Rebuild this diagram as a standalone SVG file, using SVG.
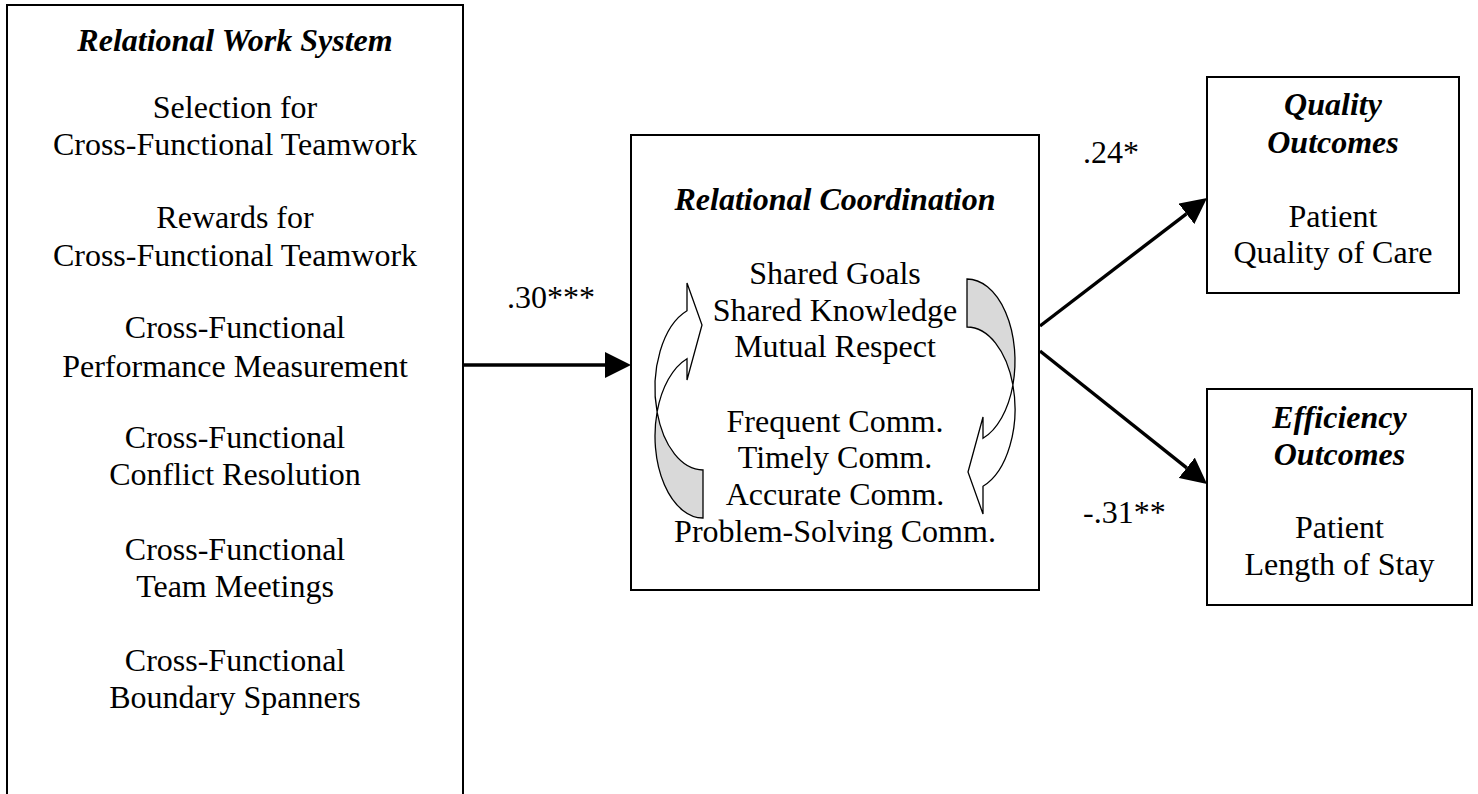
<svg xmlns="http://www.w3.org/2000/svg" width="1478" height="794" viewBox="0 0 1478 794">
<style>
.box{fill:#fff;stroke:#000;stroke-width:2}
.t{font-family:"Liberation Serif","Times New Roman",serif;font-size:32px;fill:#000;text-anchor:middle}
.h{font-weight:bold;font-style:italic}
.lbl{font-family:"Liberation Serif","Times New Roman",serif;font-size:32px;fill:#000}
.conn{stroke:#000;stroke-width:3.4;fill:none}
.ribbon{stroke:#000;stroke-width:1.3;stroke-linejoin:miter}
.front{fill:#fff}
.back{fill:#d9d9d9}
</style>
<defs>
<marker id="ah" markerUnits="userSpaceOnUse" markerWidth="26" markerHeight="26" viewBox="0 0 26 26" refX="0" refY="13" orient="auto">
<path d="M0,0 L26,13 L0,26 Z" fill="#000"/>
</marker>
<g id="curl">
<path class="ribbon back" d="M703,518 A48,82 0 0 1 657.1,412 A48,82 0 0 0 703,470 Z"/>
<path class="ribbon front" d="M657.1,412 A48,82 0 0 1 687,310.7 L687,283 L702,325 L687,380 L687,358.7 A48,82 0 0 0 657.1,412 Z"/>
</g>
</defs>

<g id="relational-work-system">
<rect class="box" x="7" y="5" width="456" height="800"/>
<text class="t h" x="235" y="51">Relational Work System</text>
<text class="t" x="235" y="118">Selection for</text>
<text class="t" x="235" y="155">Cross-Functional Teamwork</text>
<text class="t" x="235" y="228">Rewards for</text>
<text class="t" x="235" y="266">Cross-Functional Teamwork</text>
<text class="t" x="235" y="338">Cross-Functional</text>
<text class="t" x="235" y="377">Performance Measurement</text>
<text class="t" x="235" y="448">Cross-Functional</text>
<text class="t" x="235" y="485">Conflict Resolution</text>
<text class="t" x="235" y="560">Cross-Functional</text>
<text class="t" x="235" y="597">Team Meetings</text>
<text class="t" x="235" y="671">Cross-Functional</text>
<text class="t" x="235" y="708">Boundary Spanners</text>
</g>

<g id="relational-coordination">
<rect class="box" x="631" y="135" width="408" height="455"/>
<use href="#curl"/>
<use href="#curl" transform="rotate(180 835 398.5)"/>
<text class="t h" x="835" y="210">Relational Coordination</text>
<text class="t" x="835" y="284">Shared Goals</text>
<text class="t" x="835" y="321">Shared Knowledge</text>
<text class="t" x="835" y="357">Mutual Respect</text>
<text class="t" x="835" y="432">Frequent Comm.</text>
<text class="t" x="835" y="468">Timely Comm.</text>
<text class="t" x="835" y="505">Accurate Comm.</text>
<text class="t" x="835" y="542">Problem-Solving Comm.</text>
</g>

<g id="quality-outcomes">
<rect class="box" x="1207" y="77" width="252" height="216"/>
<text class="t h" x="1333" y="115">Quality</text>
<text class="t h" x="1333" y="153">Outcomes</text>
<text class="t" x="1333" y="227">Patient</text>
<text class="t" x="1333" y="263">Quality of Care</text>
</g>

<g id="efficiency-outcomes">
<rect class="box" x="1207" y="389" width="265" height="216"/>
<text class="t h" x="1339.5" y="428">Efficiency</text>
<text class="t h" x="1339.5" y="465">Outcomes</text>
<text class="t" x="1339.5" y="538">Patient</text>
<text class="t" x="1339.5" y="575">Length of Stay</text>
</g>

<g id="connectors">
<line class="conn" x1="463" y1="365" x2="605" y2="365" marker-end="url(#ah)"/>
<line class="conn" x1="1040" y1="326" x2="1186.4" y2="213.8" marker-end="url(#ah)"/>
<line class="conn" x1="1040" y1="351" x2="1186.7" y2="467.8" marker-end="url(#ah)"/>
<text class="lbl" x="507" y="308">.30***</text>
<text class="lbl" x="1083" y="163">.24*</text>
<text class="lbl" x="1083" y="523">-.31**</text>
</g>
</svg>
